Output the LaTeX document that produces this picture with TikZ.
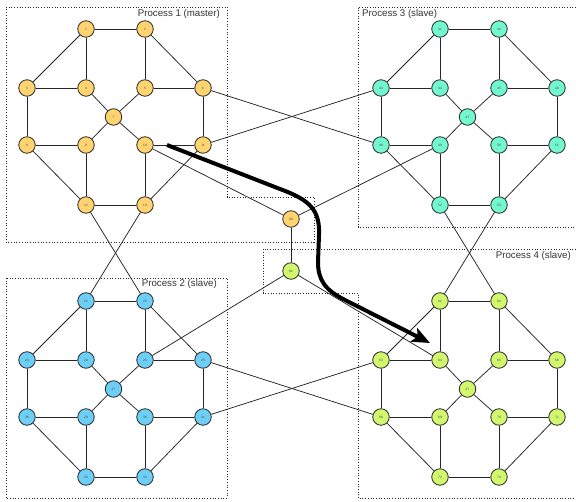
\documentclass[tikz,border=0pt]{standalone}
\usepackage{fontspec}
\setmainfont{Liberation Sans}
\usetikzlibrary{arrows.meta}
\definecolor{orangeN}{HTML}{FFD470}
\definecolor{blueN}{HTML}{6DCFF6}
\definecolor{tealN}{HTML}{73F7CF}
\definecolor{greenN}{HTML}{D2F76E}
\begin{document}
\begin{tikzpicture}[x=1pt,y=-1pt,
 pnode/.style={circle,draw=black!85,line width=0.8pt,minimum size=16.5pt,inner sep=0pt,font=\fontsize{3.2}{3.5}\selectfont,text=black!75},
 edge/.style={line width=0.75pt,draw=black!85},
 procbox/.style={line width=0.8pt,dash pattern=on 0.9pt off 1.8pt,draw=black!85},
 plabel/.style={font=\fontsize{9.7}{11}\selectfont,text=black!80,inner sep=0pt},
 bigarrow/.style={line width=4pt,line join=round,-{Stealth[length=18pt,width=15pt,inset=4pt]}}
]
\useasboundingbox (0,0) rectangle (576,502);
\fill[white] (0,0) rectangle (576,502);

% process boxes
\draw[procbox] (6,7) -- (227,7) -- (227,197) -- (314,197) -- (314,242) -- (6,242) -- cycle;
\draw[procbox] (576,7) -- (358,7) -- (358,227) -- (576,227);
\draw[procbox] (6,278) rectangle (227,498);
\draw[procbox] (576,249) -- (263,249) -- (263,293) -- (358,293) -- (358,498) -- (576,498);

\node[plabel,anchor=base east] (l1) at (220,16.5) {Process 1 (master)};
\node[plabel,anchor=base west] (l3) at (362,16.5) {Process 3 (slave)};
\node[plabel,anchor=base east] (l2) at (217,287) {Process 2 (slave)};
\node[plabel,anchor=base east] (l4) at (571,258.5) {Process 4 (slave)};

% nodes
\foreach \base/\dx/\dy/\col in {0/0/0/orangeN, 20/0/272/blueN, 40/354/0/tealN, 60/354/272/greenN}{
  \foreach \i/\px/\py in {1/86/29, 2/145/29, 3/27/88, 4/86/88, 5/145/88, 6/203/88, 7/113.5/117, 8/27/145, 9/86/145, 10/145/145, 11/203/145, 12/86/205, 13/145/205}{
    \pgfmathtruncatemacro\n{\base+\i}
    \node[pnode,fill=\col] (n\n) at (\px+\dx,\py+\dy) {\n};
  }
}
\node[pnode,fill=orangeN] (n80) at (291,219) {80};
\node[pnode,fill=greenN] (n81) at (291,271) {81};

% edges inside each process
\foreach \base in {0,20,40,60}{
  \foreach \a/\b in {1/2,1/3,1/4,2/5,2/6,3/4,3/8,4/7,5/7,5/6,6/11,7/9,7/10,8/9,8/12,9/12,10/13,10/11,11/13,12/13}{
    \pgfmathtruncatemacro\p{\base+\a}
    \pgfmathtruncatemacro\q{\base+\b}
    \draw[edge] (n\p) -- (n\q);
  }
}

% edges between processes
\foreach \a/\b in {6/48,11/43,12/22,13/21,52/62,53/61,26/68,31/63,10/80,80/49,80/81,81/25,81/64}{
  \draw[edge] (n\a) -- (n\b);
}

% thick arrow
\coordinate (arrS) at (167,145);
\coordinate (arrE) at (430,343);
\draw[bigarrow] (arrS) -- (280,189) .. controls (310,200) and (320,210) .. (319,235) -- (318,262) .. controls (318,280) and (325,290) .. (345,300) -- (arrE);
\end{tikzpicture}
\end{document}
